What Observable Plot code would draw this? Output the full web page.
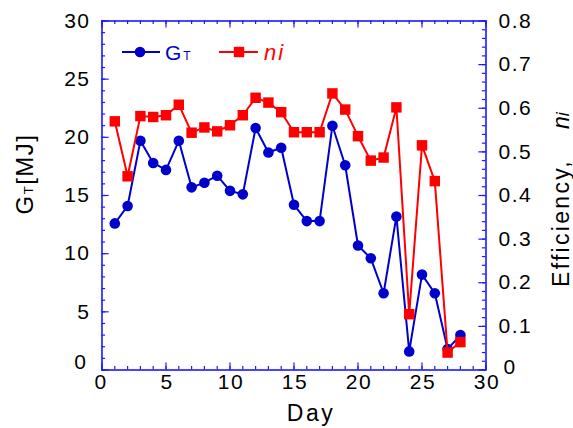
<!DOCTYPE html>
<html>
<head>
<meta charset="utf-8">
<script src="https://cdn.jsdelivr.net/npm/d3@7"></script>
<script src="https://cdn.jsdelivr.net/npm/@observablehq/plot@0.6"></script>
<style>
  html, body { margin: 0; padding: 0; background: #fff; }
  #wrap { position: relative; width: 573px; height: 428px; }
  #wrap svg { position: absolute; left: 0; top: 0; }
</style>
</head>
<body>
<div id="wrap"></div>
<script>
// ---- data ----
const days = [1, 2, 3, 4, 5, 6, 7, 8, 9, 10, 11, 12, 13, 14, 15, 16, 17, 18, 19, 20, 21, 22, 23, 24, 25, 26, 27, 28];
const gt = [12.6, 14.1, 19.7, 17.8, 17.2, 19.7, 15.7, 16.1, 16.7, 15.4, 15.1, 20.8, 18.7, 19.1, 14.2, 12.8, 12.8, 21.0, 17.6, 10.7, 9.6, 6.6, 13.2, 1.6, 8.2, 6.6, 1.8, 3.0];
const eff = [0.570, 0.444, 0.582, 0.580, 0.584, 0.608, 0.544, 0.556, 0.547, 0.561, 0.584, 0.624, 0.613, 0.591, 0.545, 0.545, 0.545, 0.634, 0.597, 0.536, 0.480, 0.487, 0.602, 0.128, 0.515, 0.433, 0.040, 0.064];

const xTicks = [0, 5, 10, 15, 20, 25, 30];
const gtTicks = [0, 5, 10, 15, 20, 25, 30];
const effTicks = [0, 0.1, 0.2, 0.3, 0.4, 0.5, 0.6, 0.7, 0.8];
const xMinor = d3.range(0, 31);
const gtMinor = d3.range(0, 31);
const effMinor = d3.range(0, 41).map(i => i / 50);

const xLabel = "Day";
const gtLabelMain = "G", gtLabelSub = "T", gtLabelUnit = "[MJ]";
const effLabel = "Efficiency,", effLabelN = "n", effLabelI = "i";

const rows = days.map((d, i) => ({day: d, gt: gt[i], eff: eff[i]}));

// ---- style ----
const AX = "#1a1aff";
const BLUE = "#0000cc";
const RED = "#ff0000";
const FONT = "'Liberation Sans', Arial, Helvetica, sans-serif";
const W = 573, H = 428;
const base = {
  width: W, height: H,
  marginLeft: 101.5, marginRight: 87.5, marginTop: 20.5, marginBottom: 58.5,
  style: {background: "transparent", fontFamily: FONT, overflow: "visible"}
};
const fmt = d => String(d);
const textOpt = {tickSize: 0, fontSize: 21, fill: "#000", stroke: "none", label: null, tickFormat: fmt};
const tk = {stroke: AX, strokeWidth: 1.2};
// tick lengths expressed in data units (≈3.5 px minor, ≈7 px major)
const xMinLen = 0.28, xMajLen = 0.56;    // days
const gMinLen = 0.3, gMajLen = 0.6;      // MJ

const p1 = Plot.plot({
  ...base,
  x: {domain: [0, 30]},
  y: {domain: [0, 30]},
  marks: [
    // inward ticks: bottom, top, left
    Plot.ruleX(xMinor, {x: d => d, y1: 0, y2: gMinLen, ...tk}),
    Plot.ruleX(xTicks, {x: d => d, y1: 0, y2: gMajLen, ...tk}),
    Plot.ruleX(xMinor, {x: d => d, y1: 30, y2: 30 - gMinLen, ...tk}),
    Plot.ruleX(xTicks, {x: d => d, y1: 30, y2: 30 - gMajLen, ...tk}),
    Plot.ruleY(gtMinor, {y: d => d, x1: 0, x2: xMinLen, ...tk}),
    Plot.ruleY(gtTicks, {y: d => d, x1: 0, x2: xMajLen, ...tk}),
    Plot.axisX(xTicks.filter(d => d > 0), {anchor: "bottom", tickPadding: 4, dx: 1, ...textOpt}),
    Plot.axisX([0], {anchor: "bottom", tickPadding: 4, dx: -1, ...textOpt}),
    Plot.axisY(gtTicks.filter(d => d > 0), {anchor: "left", tickPadding: 11.5, ...textOpt}),
    Plot.axisY([0], {anchor: "left", tickPadding: 14.5, dy: -8, ...textOpt}),
    Plot.frame({stroke: AX, strokeWidth: 1.6}),
    Plot.line(rows, {x: "day", y: "gt", stroke: BLUE, strokeWidth: 2}),
    Plot.dot(rows, {x: "day", y: "gt", r: 5.3, fill: BLUE, stroke: "none"})
  ]
});

const p2 = Plot.plot({
  ...base,
  x: {domain: [0, 30], axis: null},
  y: {domain: [0, 0.8]},
  marks: [
    Plot.ruleY(effMinor, {y: d => d, x1: 30, x2: 30 - xMinLen, ...tk}),
    Plot.ruleY(effTicks, {y: d => d, x1: 30, x2: 30 - xMajLen, ...tk}),
    Plot.axisY(effTicks.filter(d => d > 0), {anchor: "right", tickPadding: 12.5, ...textOpt}),
    Plot.axisY([0], {anchor: "right", tickPadding: 17.5, dy: -3, ...textOpt}),
    Plot.line(rows, {x: "day", y: "eff", stroke: RED, strokeWidth: 2}),
    Plot.dot(rows, {x: "day", y: "eff", symbol: "square", r: 5.9, fill: RED, stroke: "none"})
  ]
});

const wrap = document.getElementById("wrap");
wrap.appendChild(p1);
wrap.appendChild(p2);

// tick-label letter spacing (wide Origin-style numerals)
d3.selectAll([p1, p2]).selectAll("g[aria-label$='tick label'] text").attr("letter-spacing", "1.5");

// ---- axis titles and legend ----
const s = d3.select(p2);
s.append("text")
  .attr("x", 311).attr("y", 421)
  .attr("text-anchor", "middle")
  .attr("font-family", FONT).attr("font-size", 23).attr("letter-spacing", "2.5")
  .attr("fill", "#000")
  .text(xLabel);

const gl = s.append("text")
  .attr("transform", "translate(33,174) rotate(-90)")
  .attr("text-anchor", "middle")
  .attr("font-family", FONT).attr("font-size", 24).attr("letter-spacing", "1.5")
  .attr("fill", "#000");
gl.append("tspan").text(gtLabelMain);
gl.append("tspan").attr("font-size", 13).text(gtLabelSub);
gl.append("tspan").text(gtLabelUnit);

const el = s.append("text")
  .attr("transform", "translate(569,287) rotate(-90)")
  .attr("text-anchor", "start")
  .attr("font-family", FONT).attr("font-size", 23).attr("letter-spacing", "2.3")
  .attr("fill", "#000");
el.append("tspan").text(effLabel);
el.append("tspan").attr("dx", 30).attr("font-style", "italic").attr("letter-spacing", "0").text(effLabelN);
el.append("tspan").attr("font-style", "italic").attr("font-size", 18).attr("letter-spacing", "0").text(effLabelI);

// legend
const lg = s.append("g").attr("text-anchor", "start");
lg.append("line").attr("x1", 122).attr("x2", 160).attr("y1", 52).attr("y2", 52)
  .attr("stroke", BLUE).attr("stroke-width", 2);
lg.append("circle").attr("cx", 140).attr("cy", 52).attr("r", 5.3).attr("fill", BLUE);
const lt1 = lg.append("text").attr("x", 165).attr("y", 60).attr("text-anchor", "start")
  .attr("font-family", FONT).attr("font-size", 21).attr("fill", BLUE).attr("letter-spacing", "2");
lt1.append("tspan").text(gtLabelMain);
lt1.append("tspan").attr("font-size", 12).text(gtLabelSub);

lg.append("line").attr("x1", 219).attr("x2", 258).attr("y1", 52).attr("y2", 52)
  .attr("stroke", RED).attr("stroke-width", 2);
lg.append("rect").attr("x", 239 - 5.2).attr("y", 52 - 5.2).attr("width", 10.4).attr("height", 10.4).attr("fill", RED);
const lt2 = lg.append("text").attr("x", 264).attr("y", 60).attr("text-anchor", "start")
  .attr("font-family", FONT).attr("font-size", 22).attr("font-style", "italic").attr("fill", RED)
  .attr("letter-spacing", "2");
lt2.append("tspan").text(effLabelN);
lt2.append("tspan").text(effLabelI);
</script>
</body>
</html>
